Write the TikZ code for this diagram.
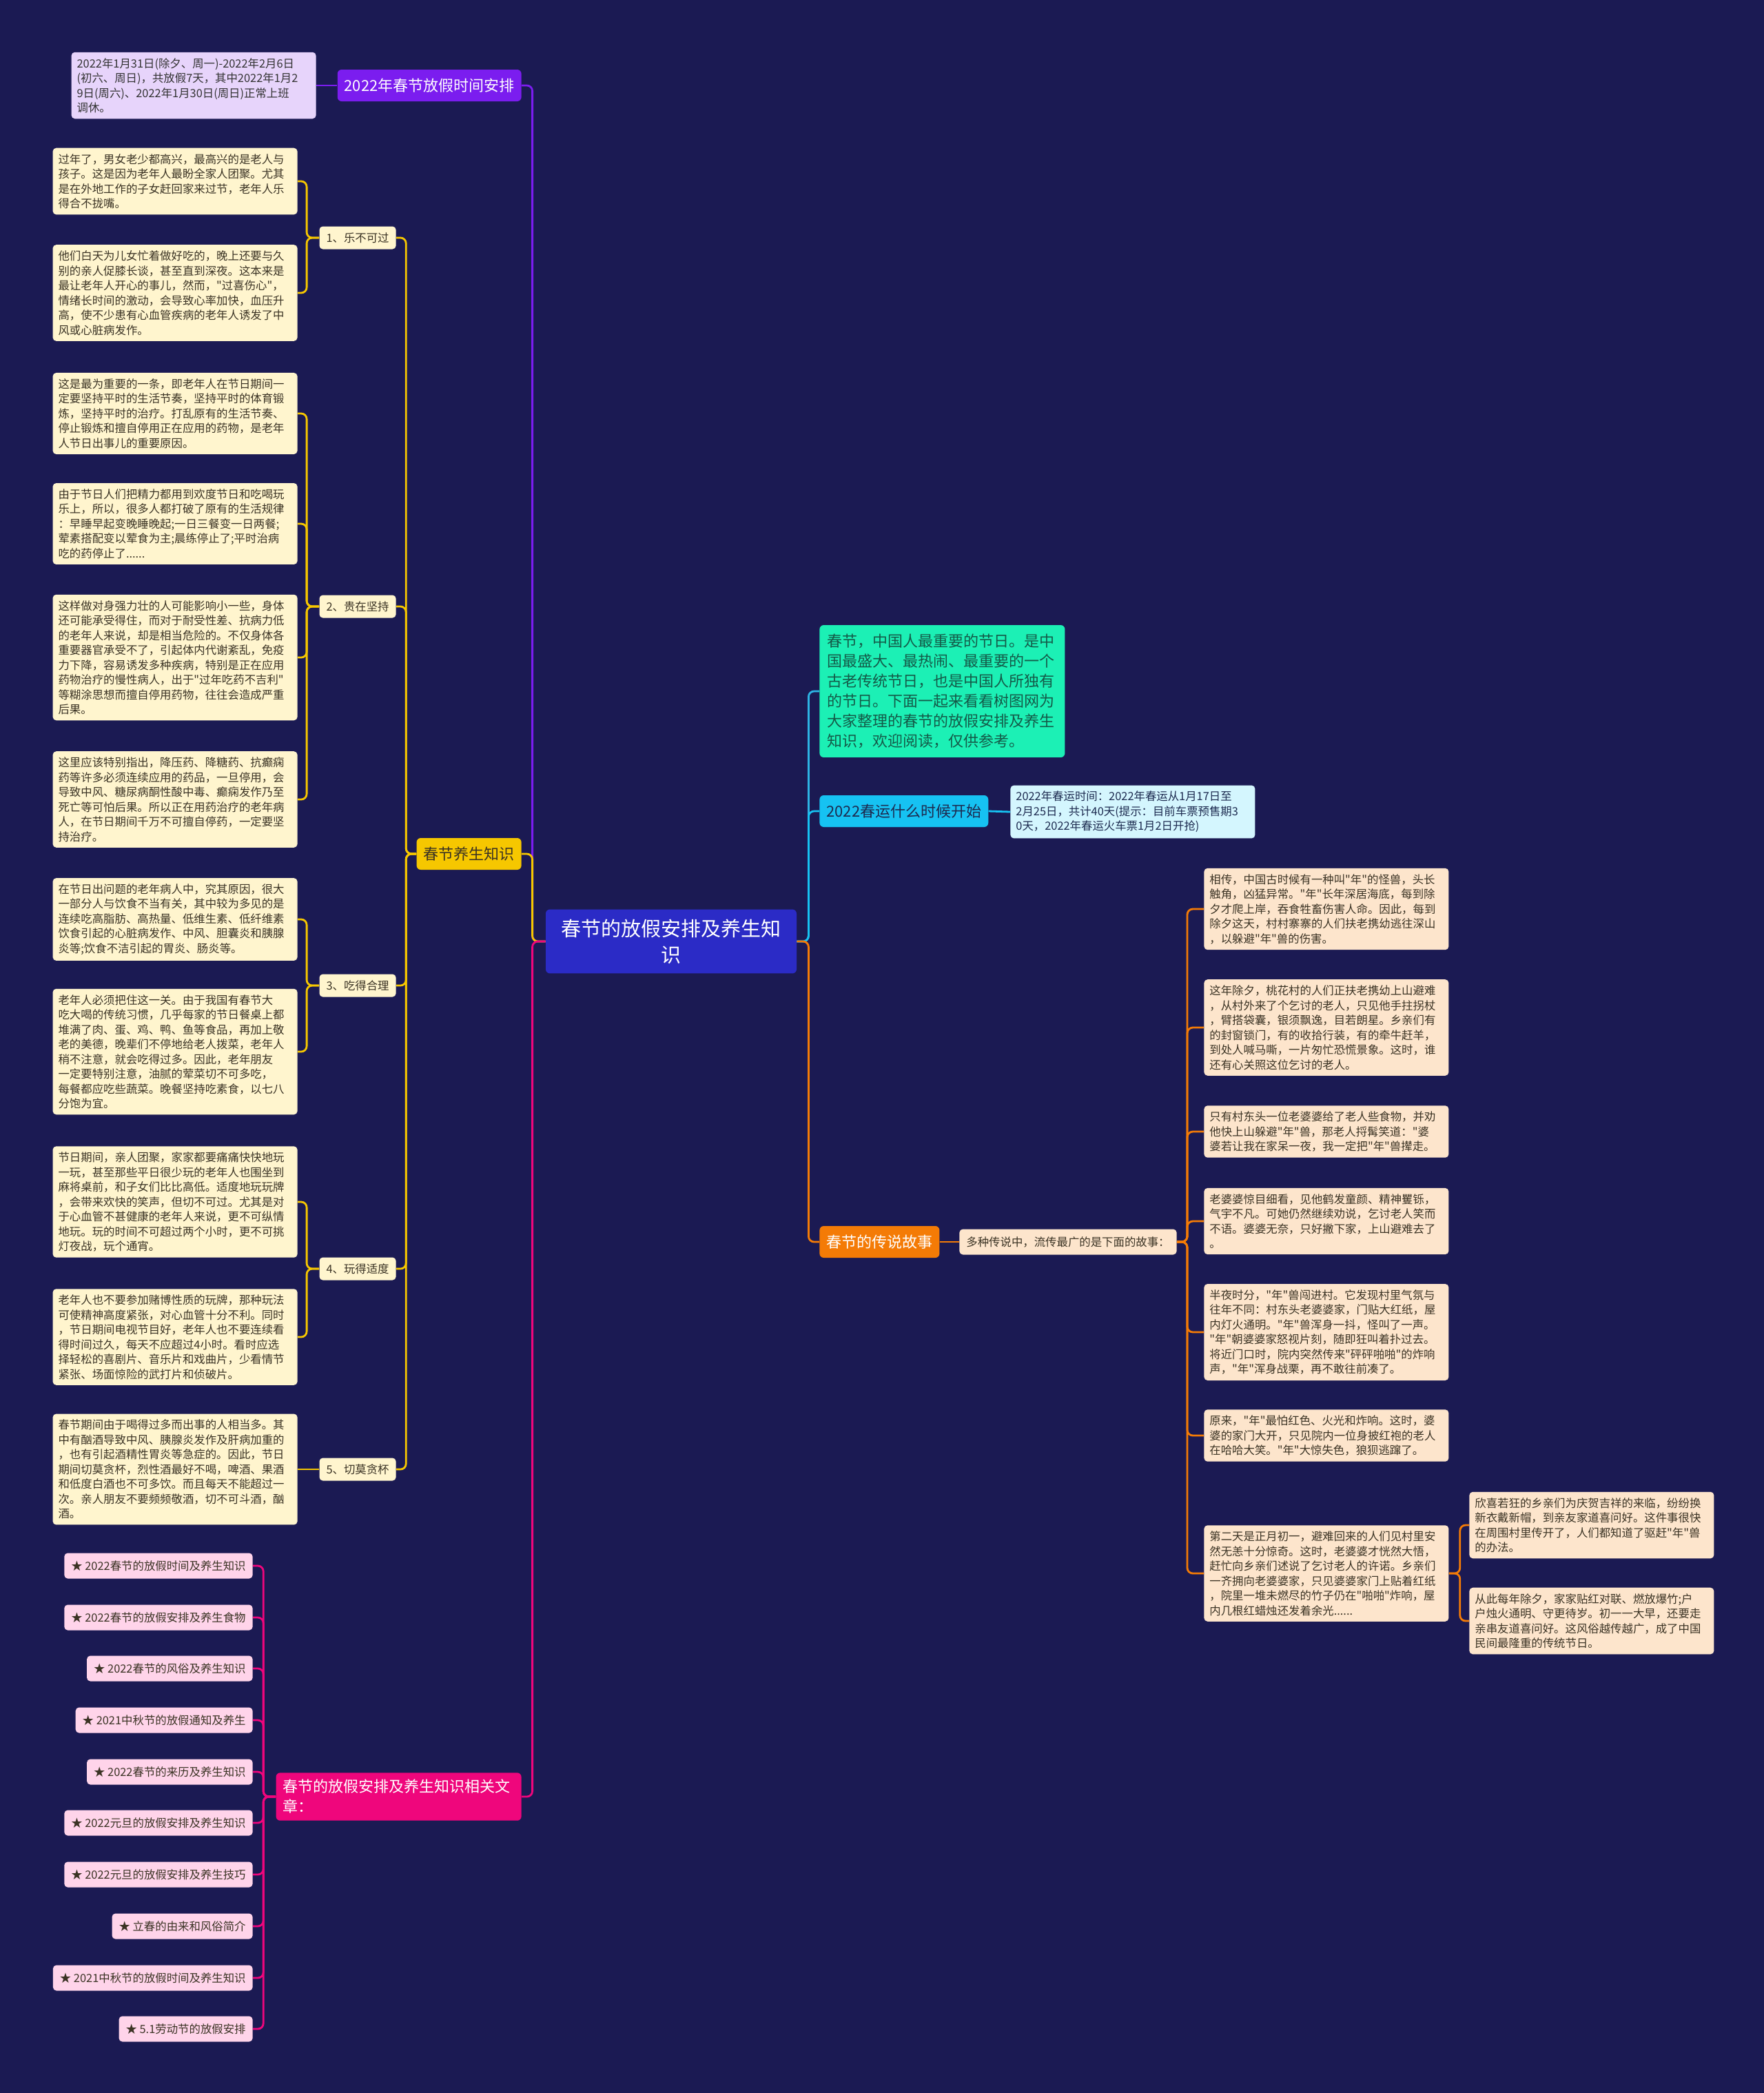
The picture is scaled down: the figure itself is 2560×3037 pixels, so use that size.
\documentclass[tikz,border=0pt]{standalone}
\usepackage{fontspec}
\setmainfont{Noto Sans CJK SC}[Ligatures=TeXOff]
\usetikzlibrary{positioning}
\definecolor{mbg}{HTML}{1B1A53}
\definecolor{mroot}{HTML}{2B2BC6}
\definecolor{mpurple}{HTML}{7B1DEF}
\definecolor{mlav}{HTML}{E7D4FB}
\definecolor{myellow}{HTML}{F6C700}
\definecolor{mcream}{HTML}{FFF5CE}
\definecolor{mpink}{HTML}{EF067C}
\definecolor{mpinksoft}{HTML}{FFD4EA}
\definecolor{mmint}{HTML}{1CF0B5}
\definecolor{mminttext}{HTML}{145A48}
\definecolor{mcyan}{HTML}{16C2F2}
\definecolor{mcyansoft}{HTML}{D4F6FE}
\definecolor{mcyantext}{HTML}{1D2B50}
\definecolor{morange}{HTML}{F47B06}
\definecolor{mpeach}{HTML}{FDE5CC}
\definecolor{mblueline}{HTML}{2DB4E4}
\definecolor{mink}{HTML}{3B3324}
\newcommand{\leaffont}{\fontsize{8.2pt}{10.75pt}\selectfont}
\newcommand{\topicfont}{\fontsize{11pt}{14.5pt}\selectfont}
\newcommand{\rootfont}{\fontsize{14.5pt}{19pt}\selectfont}
\tikzset{
  leafbox/.style={
    fill=#1, text=mink, rounded corners=2.5pt, align=left,
    text width=169.5pt, inner xsep=4pt, inner ysep=4.2pt, font=\leaffont
  },
  subtag/.style={
    fill=#1, text=mink, rounded corners=2.5pt, inner xsep=5pt,
    inner ysep=0pt, minimum height=16.5pt, font=\leaffont
  },
  topicbox/.style={
    fill=#1, text=white, rounded corners=3pt, inner xsep=5pt,
    inner ysep=0pt, minimum height=23pt, font=\topicfont
  },
  linkline/.style={draw=#1, line width=1.4pt, rounded corners=4pt}
}

\begin{document}
\begin{tikzpicture}[x=0.5pt,y=-0.5pt]
  \fill[mbg] (0,0) rectangle (2560,3037);
  % centre
  \node[fill=mroot, text=white, rounded corners=3pt, text width=166pt, align=center,
    inner xsep=8pt, inner ysep=7pt, font=\rootfont] (root) at (974,1366) {春节的放假安排及养生知\\识};

  % left: holiday dates
  \node[topicbox=mpurple, anchor=east] (holiday) at (757,124) {2022年春节放假时间安排};
  \node[leafbox=mlav, text=black!80, anchor=east] (holidayleaf) at (459,124) {2022年1月31日(除夕、周一)-2022年2月6日\\(初六、周日)，共放假7天，其中2022年1月2\\9日(周六)、2022年1月30日(周日)正常上班\\调休。};

  % left: health
  \node[topicbox=myellow, text=mink, anchor=east] (health) at (757,1239) {春节养生知识};
  \node[subtag=mcream, anchor=east] (s1) at (575,345) {1、乐不可过};
  \node[subtag=mcream, anchor=east] (s2) at (575,880) {2、贵在坚持};
  \node[subtag=mcream, anchor=east] (s3) at (575,1430) {3、吃得合理};
  \node[subtag=mcream, anchor=east] (s4) at (575,1841) {4、玩得适度};
  \node[subtag=mcream, anchor=east] (s5) at (575,2132) {5、切莫贪杯};

  \node[leafbox=mcream, anchor=east] (s1a) at (432,263) {过年了，男女老少都高兴，最高兴的是老人与\\孩子。这是因为老年人最盼全家人团聚。尤其\\是在外地工作的子女赶回家来过节，老年人乐\\得合不拢嘴。};
  \node[leafbox=mcream, anchor=east] (s1b) at (432,425) {他们白天为儿女忙着做好吃的，晚上还要与久\\别的亲人促膝长谈，甚至直到深夜。这本来是\\最让老年人开心的事儿，然而，"过喜伤心"，\\情绪长时间的激动，会导致心率加快，血压升\\高，使不少患有心血管疾病的老年人诱发了中\\风或心脏病发作。};
  \node[leafbox=mcream, anchor=east] (s2a) at (432,600) {这是最为重要的一条，即老年人在节日期间一\\定要坚持平时的生活节奏，坚持平时的体育锻\\炼，坚持平时的治疗。打乱原有的生活节奏、\\停止锻炼和擅自停用正在应用的药物，是老年\\人节日出事儿的重要原因。};
  \node[leafbox=mcream, anchor=east] (s2b) at (432,760) {由于节日人们把精力都用到欢度节日和吃喝玩\\乐上，所以，很多人都打破了原有的生活规律\\：早睡早起变晚睡晚起;一日三餐变一日两餐;\\荤素搭配变以荤食为主;晨练停止了;平时治病\\吃的药停止了......};
  \node[leafbox=mcream, anchor=east] (s2c) at (432,954) {这样做对身强力壮的人可能影响小一些，身体\\还可能承受得住，而对于耐受性差、抗病力低\\的老年人来说，却是相当危险的。不仅身体各\\重要器官承受不了，引起体内代谢紊乱，免疫\\力下降，容易诱发多种疾病，特别是正在应用\\药物治疗的慢性病人，出于"过年吃药不吉利"\\等糊涂思想而擅自停用药物，往往会造成严重\\后果。};
  \node[leafbox=mcream, anchor=east] (s2d) at (432,1160) {这里应该特别指出，降压药、降糖药、抗癫痫\\药等许多必须连续应用的药品，一旦停用，会\\导致中风、糖尿病酮性酸中毒、癫痫发作乃至\\死亡等可怕后果。所以正在用药治疗的老年病\\人，在节日期间千万不可擅自停药，一定要坚\\持治疗。};
  \node[leafbox=mcream, anchor=east] (s3a) at (432,1334) {在节日出问题的老年病人中，究其原因，很大\\一部分人与饮食不当有关，其中较为多见的是\\连续吃高脂肪、高热量、低维生素、低纤维素\\饮食引起的心脏病发作、中风、胆囊炎和胰腺\\炎等;饮食不洁引起的胃炎、肠炎等。};
  \node[leafbox=mcream, anchor=east] (s3b) at (432,1526) {老年人必须把住这一关。由于我国有春节大\\吃大喝的传统习惯，几乎每家的节日餐桌上都\\堆满了肉、蛋、鸡、鸭、鱼等食品，再加上敬\\老的美德，晚辈们不停地给老人拨菜，老年人\\稍不注意，就会吃得过多。因此，老年朋友\\一定要特别注意，油腻的荤菜切不可多吃，\\每餐都应吃些蔬菜。晚餐坚持吃素食，以七八\\分饱为宜。};
  \node[leafbox=mcream, anchor=east] (s4a) at (432,1744) {节日期间，亲人团聚，家家都要痛痛快快地玩\\一玩，甚至那些平日很少玩的老年人也围坐到\\麻将桌前，和子女们比比高低。适度地玩玩牌\\，会带来欢快的笑声，但切不可过。尤其是对\\于心血管不甚健康的老年人来说，更不可纵情\\地玩。玩的时间不可超过两个小时，更不可挑\\灯夜战，玩个通宵。};
  \node[leafbox=mcream, anchor=east] (s4b) at (432,1940) {老年人也不要参加赌博性质的玩牌，那种玩法\\可使精神高度紧张，对心血管十分不利。同时\\，节日期间电视节目好，老年人也不要连续看\\得时间过久，每天不应超过4小时。看时应选\\择轻松的喜剧片、音乐片和戏曲片，少看情节\\紧张、场面惊险的武打片和侦破片。};
  \node[leafbox=mcream, anchor=east] (s5a) at (432,2132) {春节期间由于喝得过多而出事的人相当多。其\\中有酗酒导致中风、胰腺炎发作及肝病加重的\\，也有引起酒精性胃炎等急症的。因此，节日\\期间切莫贪杯，烈性酒最好不喝，啤酒、果酒\\和低度白酒也不可多饮。而且每天不能超过一\\次。亲人朋友不要频频敬酒，切不可斗酒，酗\\酒。};

  % left: related articles
  \node[topicbox=mpink, anchor=east, text width=168pt, align=left, inner ysep=5pt] (related) at (757,2607) {春节的放假安排及养生知识相关文\\章：};
  \node[subtag=mpinksoft, anchor=east, minimum height=18.5pt] (r1) at (367,2272) {★ 2022春节的放假时间及养生知识};
  \node[subtag=mpinksoft, anchor=east, minimum height=18.5pt] (r2) at (367,2347) {★ 2022春节的放假安排及养生食物};
  \node[subtag=mpinksoft, anchor=east, minimum height=18.5pt] (r3) at (367,2421) {★ 2022春节的风俗及养生知识};
  \node[subtag=mpinksoft, anchor=east, minimum height=18.5pt] (r4) at (367,2496) {★ 2021中秋节的放假通知及养生};
  \node[subtag=mpinksoft, anchor=east, minimum height=18.5pt] (r5) at (367,2571) {★ 2022春节的来历及养生知识};
  \node[subtag=mpinksoft, anchor=east, minimum height=18.5pt] (r6) at (367,2645) {★ 2022元旦的放假安排及养生知识};
  \node[subtag=mpinksoft, anchor=east, minimum height=18.5pt] (r7) at (367,2720) {★ 2022元旦的放假安排及养生技巧};
  \node[subtag=mpinksoft, anchor=east, minimum height=18.5pt] (r8) at (367,2795) {★ 立春的由来和风俗简介};
  \node[subtag=mpinksoft, anchor=east, minimum height=18.5pt] (r9) at (367,2870) {★ 2021中秋节的放假时间及养生知识};
  \node[subtag=mpinksoft, anchor=east, minimum height=18.5pt] (r10) at (367,2944) {★ 5.1劳动节的放假安排};

  % right side
  \node[fill=mmint, text=mminttext, rounded corners=3pt, align=left, text width=167pt,
    inner xsep=5.5pt, inner ysep=6.5pt, font=\topicfont, anchor=west] (intro) at (1189,1003) {春节，中国人最重要的节日。是中\\国最盛大、最热闹、最重要的一个\\古老传统节日，也是中国人所独有\\的节日。下面一起来看看树图网为\\大家整理的春节的放假安排及养生\\知识，欢迎阅读，仅供参考。};
  \node[topicbox=mcyan, text=mcyantext, anchor=west] (travel) at (1189,1177) {2022春运什么时候开始};
  \node[leafbox=mcyansoft, text=mcyantext, anchor=west] (travelleaf) at (1466,1178) {2022年春运时间：2022年春运从1月17日至\\2月25日，共计40天(提示：目前车票预售期3\\0天，2022年春运火车票1月2日开抢)};

  \node[topicbox=morange, anchor=west] (legend) at (1189,1802) {春节的传说故事};
  \node[subtag=mpeach, anchor=west, minimum height=18.5pt] (legendintro) at (1392,1802) {多种传说中，流传最广的是下面的故事：};
  \node[leafbox=mpeach, anchor=west] (st1) at (1747,1319) {相传，中国古时候有一种叫"年"的怪兽，头长\\触角，凶猛异常。"年"长年深居海底，每到除\\夕才爬上岸，吞食牲畜伤害人命。因此，每到\\除夕这天，村村寨寨的人们扶老携幼逃往深山\\，以躲避"年"兽的伤害。};
  \node[leafbox=mpeach, anchor=west] (st2) at (1747,1491) {这年除夕，桃花村的人们正扶老携幼上山避难\\，从村外来了个乞讨的老人，只见他手拄拐杖\\，臂搭袋囊，银须飘逸，目若朗星。乡亲们有\\的封窗锁门，有的收拾行装，有的牵牛赶羊，\\到处人喊马嘶，一片匆忙恐慌景象。这时，谁\\还有心关照这位乞讨的老人。};
  \node[leafbox=mpeach, anchor=west] (st3) at (1747,1642) {只有村东头一位老婆婆给了老人些食物，并劝\\他快上山躲避"年"兽，那老人捋髯笑道："婆\\婆若让我在家呆一夜，我一定把"年"兽撵走。};
  \node[leafbox=mpeach, anchor=west] (st4) at (1747,1772) {老婆婆惊目细看，见他鹤发童颜、精神矍铄，\\气宇不凡。可她仍然继续劝说，乞讨老人笑而\\不语。婆婆无奈，只好撇下家，上山避难去了\\。};
  \node[leafbox=mpeach, anchor=west] (st5) at (1747,1933) {半夜时分，"年"兽闯进村。它发现村里气氛与\\往年不同：村东头老婆婆家，门贴大红纸，屋\\内灯火通明。"年"兽浑身一抖，怪叫了一声。\\"年"朝婆婆家怒视片刻，随即狂叫着扑过去。\\将近门口时，院内突然传来"砰砰啪啪"的炸响\\声，"年"浑身战栗，再不敢往前凑了。};
  \node[leafbox=mpeach, anchor=west] (st6) at (1747,2083) {原来，"年"最怕红色、火光和炸响。这时，婆\\婆的家门大开，只见院内一位身披红袍的老人\\在哈哈大笑。"年"大惊失色，狼狈逃蹿了。};
  \node[leafbox=mpeach, anchor=west] (st7) at (1747,2283) {第二天是正月初一，避难回来的人们见村里安\\然无恙十分惊奇。这时，老婆婆才恍然大悟，\\赶忙向乡亲们述说了乞讨老人的许诺。乡亲们\\一齐拥向老婆婆家，只见婆婆家门上贴着红纸\\，院里一堆未燃尽的竹子仍在"啪啪"炸响，屋\\内几根红蜡烛还发着余光......};
  \node[leafbox=mpeach, anchor=west] (st7a) at (2132,2213) {欣喜若狂的乡亲们为庆贺吉祥的来临，纷纷换\\新衣戴新帽，到亲友家道喜问好。这件事很快\\在周围村里传开了，人们都知道了驱赶"年"兽\\的办法。};
  \node[leafbox=mpeach, anchor=west] (st7b) at (2132,2352) {从此每年除夕，家家贴红对联、燃放爆竹;户\\户烛火通明、守更待岁。初一一大早，还要走\\亲串友道喜问好。这风俗越传越广，成了中国\\民间最隆重的传统节日。};

  % connectors
  \draw[linkline=mpurple] (root.west) -- ++(-19,0) |- (holiday.east);
  \draw[linkline=myellow] (root.west) -- ++(-19,0) |- (health.east);
  \draw[linkline=mpink] (root.west) -- ++(-19,0) |- (related.east);
  \draw[linkline=mpurple] (holiday.west) -- (holidayleaf.east);
  \draw[linkline=myellow] (health.west) -- ++(-15,0) |- (s1.east);
  \draw[linkline=myellow] (health.west) -- ++(-15,0) |- (s2.east);
  \draw[linkline=myellow] (health.west) -- ++(-15,0) |- (s3.east);
  \draw[linkline=myellow] (health.west) -- ++(-15,0) |- (s4.east);
  \draw[linkline=myellow] (health.west) -- ++(-15,0) |- (s5.east);
  \draw[linkline=myellow] (s1.west) -- ++(-18,0) |- (s1a.east);
  \draw[linkline=myellow] (s1.west) -- ++(-18,0) |- (s1b.east);
  \draw[linkline=myellow] (s2.west) -- ++(-18,0) |- (s2a.east);
  \draw[linkline=myellow] (s2.west) -- ++(-18,0) |- (s2b.east);
  \draw[linkline=myellow] (s2.west) -- ++(-18,0) |- (s2c.east);
  \draw[linkline=myellow] (s2.west) -- ++(-18,0) |- (s2d.east);
  \draw[linkline=myellow] (s3.west) -- ++(-18,0) |- (s3a.east);
  \draw[linkline=myellow] (s3.west) -- ++(-18,0) |- (s3b.east);
  \draw[linkline=myellow] (s4.west) -- ++(-18,0) |- (s4a.east);
  \draw[linkline=myellow] (s4.west) -- ++(-18,0) |- (s4b.east);
  \draw[linkline=myellow] (s5.west) -- (s5a.east);
  \draw[linkline=mpink] (related.west) -- ++(-18,0) |- (r1.east);
  \draw[linkline=mpink] (related.west) -- ++(-18,0) |- (r2.east);
  \draw[linkline=mpink] (related.west) -- ++(-18,0) |- (r3.east);
  \draw[linkline=mpink] (related.west) -- ++(-18,0) |- (r4.east);
  \draw[linkline=mpink] (related.west) -- ++(-18,0) |- (r5.east);
  \draw[linkline=mpink] (related.west) -- ++(-18,0) |- (r6.east);
  \draw[linkline=mpink] (related.west) -- ++(-18,0) |- (r7.east);
  \draw[linkline=mpink] (related.west) -- ++(-18,0) |- (r8.east);
  \draw[linkline=mpink] (related.west) -- ++(-18,0) |- (r9.east);
  \draw[linkline=mpink] (related.west) -- ++(-18,0) |- (r10.east);

  \draw[linkline=mblueline] (root.east) -- ++(17,0) |- (intro.west);
  \draw[linkline=mcyan] (root.east) -- ++(17,0) |- (travel.west);
  \draw[linkline=morange] (root.east) -- ++(17,0) |- (legend.west);
  \draw[linkline=mcyan] (travel.east) -- (travelleaf.west);
  \draw[linkline=morange] (legend.east) -- (legendintro.west);
  \draw[linkline=morange] (legendintro.east) -- ++(15,0) |- (st1.west);
  \draw[linkline=morange] (legendintro.east) -- ++(15,0) |- (st2.west);
  \draw[linkline=morange] (legendintro.east) -- ++(15,0) |- (st3.west);
  \draw[linkline=morange] (legendintro.east) -- ++(15,0) |- (st4.west);
  \draw[linkline=morange] (legendintro.east) -- ++(15,0) |- (st5.west);
  \draw[linkline=morange] (legendintro.east) -- ++(15,0) |- (st6.west);
  \draw[linkline=morange] (legendintro.east) -- ++(15,0) |- (st7.west);
  \draw[linkline=morange] (st7.east) -- ++(16,0) |- (st7a.west);
  \draw[linkline=morange] (st7.east) -- ++(16,0) |- (st7b.west);
\end{tikzpicture}
\end{document}
